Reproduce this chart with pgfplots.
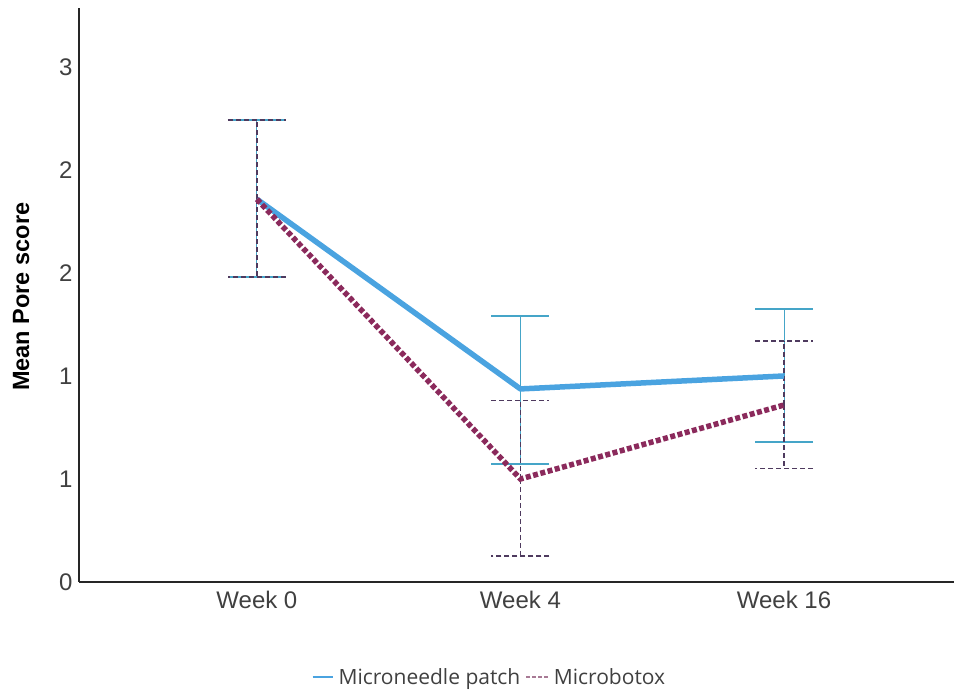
\documentclass[border=0pt]{standalone}
\usepackage{pgfplots}
\pgfplotsset{compat=1.18}
\usepackage{fontspec}
\setmainfont{Liberation Sans}
\newfontfamily\legfont{Open Sans}
\definecolor{mnblue}{HTML}{4AA3E0}
\definecolor{mnbar}{HTML}{45A5C8}
\definecolor{mbpurple}{HTML}{8B2A5C}
\definecolor{mbbar}{HTML}{4E3A5E}
\definecolor{mbleg}{HTML}{A87A95}
\definecolor{txt}{HTML}{404040}

\pgfplotstableread{
x y ep em
0 1.858 0.385 0.377
1 0.937 0.354 0.364
2 1.000 0.324 0.319
}\mndata
\pgfplotstableread{
x y ep em
0 1.858 0.385 0.377
1 0.500 0.380 0.374
2 0.859 0.311 0.307
}\mbdata

\begin{document}
\begin{tikzpicture}
\path[use as bounding box] (0,0) rectangle (954pt,692pt);
\begin{axis}[
  at={(79pt,110pt)}, anchor=south west,
  scale only axis, width=875pt, height=574pt,
  xmin=-0.675, xmax=2.645, ymin=0, ymax=2.786,
  axis x line=bottom, axis y line=left,
  axis line style={-, line width=1.2pt, color=black!85},
  major tick length=0pt,
  xtick={0,1,2}, xticklabels={Week 0, Week 4, Week 16},
  ytick={0,0.5,1,1.5,2,2.5}, yticklabels={0,1,1,2,2,3},
  tick label style={font=\fontsize{24}{28}\selectfont, text=txt},
  yticklabel style={xshift=-3pt},
  xticklabel style={yshift=-6pt},
  ylabel={Mean Pore score},
  ylabel style={font=\fontsize{23.5}{27}\selectfont\bfseries, at={(axis description cs:-0.066,0.497)}, anchor=center},
  clip=false,
  legend style={at={(axis description cs:0.469,-0.1655)}, anchor=center, draw=none, fill=none,
    legend columns=2, font=\legfont\fontsize{21}{25}\selectfont, text=txt,
    /tikz/every odd column/.append style={column sep=3pt},
    /tikz/every even column/.append style={column sep=3pt}},
]
\addlegendimage{legend image code/.code={\draw[mnblue, line width=2pt] (0pt,0pt) -- (20pt,0pt);}}
\addlegendentry{Microneedle patch}
\addlegendimage{legend image code/.code={\draw[mbleg, line width=1.5pt, dash pattern=on 4pt off 2pt] (0pt,0pt) -- (22pt,0pt);}}
\addlegendentry{Microbotox}

% error bars
\addplot[forget plot, draw=none,
  error bars/.cd, y dir=both, y explicit,
  error bar style={draw=mnbar, line width=1pt, solid},
  error mark options={rotate=90, mark size=29pt, draw=mnbar, line width=2pt, solid}]
  table[x=x, y=y, y error plus=ep, y error minus=em]{\mndata};
\addplot[forget plot, draw=none,
  error bars/.cd, y dir=both, y explicit,
  error bar style={draw=mbbar, line width=1.2pt, dash pattern=on 5pt off 3pt},
  error mark options={rotate=90, mark size=29pt, draw=mbbar, line width=1.5pt, dash pattern=on 5pt off 3pt}]
  table[x=x, y=y, y error plus=ep, y error minus=em]{\mbdata};

% lines
\addplot[forget plot, color=mnblue, line width=5.5pt, mark=none, line join=round]
  table[x=x, y=y]{\mndata};
\addplot[forget plot, color=mbpurple, line width=5.5pt, mark=none, dash pattern=on 5pt off 2.5pt]
  table[x=x, y=y]{\mbdata};
\end{axis}
\end{tikzpicture}
\end{document}
